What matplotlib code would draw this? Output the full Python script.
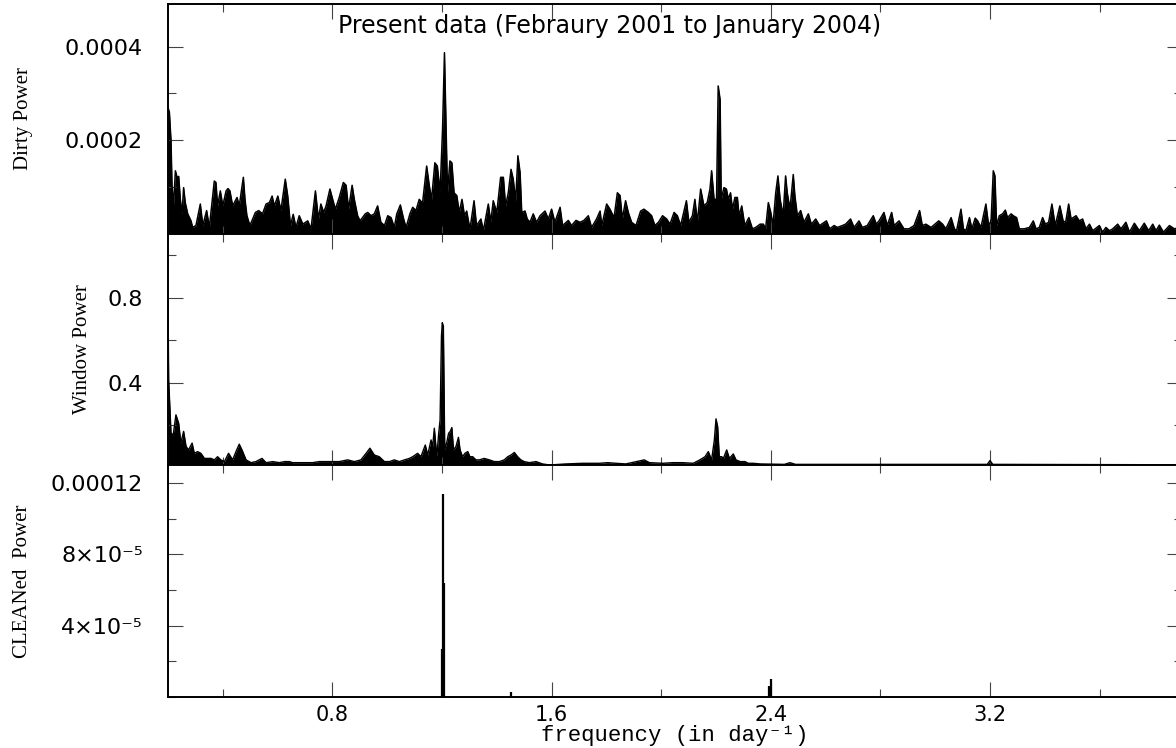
import numpy as np
import matplotlib
matplotlib.use('Agg')
import matplotlib.pyplot as plt
from matplotlib.ticker import MultipleLocator, FixedLocator, FixedFormatter

# dirty power spectrum (units of 1e-4), envelope of peaks and dips
dirty_freq = [0.200, 0.205, 0.211, 0.2146, 0.220, 0.227, 0.233, 0.239, 0.245, 0.251,
              0.257, 0.263, 0.272, 0.284, 0.290, 0.302, 0.318, 0.327, 0.341, 0.351,
              0.369, 0.375, 0.381, 0.391, 0.400, 0.412, 0.419, 0.426, 0.436, 0.452,
              0.460, 0.475, 0.481, 0.488, 0.499, 0.519, 0.531, 0.545, 0.558, 0.570,
              0.580, 0.588, 0.601, 0.612, 0.628, 0.637, 0.647, 0.657, 0.667, 0.679,
              0.692, 0.710, 0.722, 0.738, 0.749, 0.758, 0.768, 0.777, 0.791, 0.801,
              0.811, 0.825, 0.840, 0.850, 0.859, 0.872, 0.880, 0.892, 0.901, 0.920,
              0.929, 0.941, 0.953, 0.965, 0.977, 0.990, 1.002, 1.014, 1.026, 1.035,
              1.048, 1.060, 1.069, 1.083, 1.093, 1.105, 1.117, 1.127,
              1.130, 1.144, 1.154, 1.162, 1.174, 1.183, 1.193, 1.202, 1.209, 1.215,
              1.220, 1.229, 1.236, 1.244, 1.254, 1.263, 1.273, 1.282, 1.290, 1.302,
              1.317, 1.326, 1.342, 1.351, 1.369, 1.378, 1.387, 1.400, 1.414, 1.424,
              1.432, 1.442, 1.452, 1.460, 1.469, 1.477, 1.485, 1.491, 1.503, 1.511,
              1.521, 1.533, 1.545, 1.558, 1.576, 1.588, 1.600, 1.612, 1.631, 1.640,
              1.661, 1.673, 1.689, 1.704, 1.718, 1.734, 1.746, 1.764, 1.777, 1.783,
              1.801, 1.813, 1.828, 1.840, 1.850, 1.858, 1.870, 1.880, 1.892, 1.908,
              1.925, 1.937, 1.953, 1.965, 1.977, 1.990, 2.005, 2.020, 2.032,
              2.047, 2.059, 2.071, 2.092, 2.101, 2.114, 2.123, 2.132, 2.144, 2.156,
              2.168, 2.178, 2.184, 2.193, 2.202, 2.208, 2.215, 2.219, 2.229, 2.238,
              2.245, 2.253, 2.260, 2.269, 2.278, 2.284, 2.294, 2.305, 2.320, 2.333,
              2.345, 2.361, 2.373, 2.381, 2.391, 2.400, 2.408, 2.418, 2.426, 2.434,
              2.445, 2.454, 2.460, 2.470, 2.482, 2.488, 2.497, 2.509, 2.521, 2.537,
              2.548, 2.564, 2.578, 2.603, 2.615, 2.631, 2.643, 2.661, 2.673, 2.691,
              2.704, 2.722, 2.734, 2.752, 2.774, 2.785, 2.795, 2.813, 2.825, 2.841,
              2.850, 2.868, 2.886, 2.904, 2.923, 2.943, 2.953, 2.966,
              2.985, 3.013, 3.027, 3.039, 3.058, 3.070, 3.078, 3.094, 3.103, 3.112,
              3.125, 3.134, 3.146, 3.155, 3.167, 3.185, 3.195, 3.204, 3.212, 3.218,
              3.224, 3.234, 3.246, 3.256, 3.264, 3.277, 3.285, 3.297, 3.307, 3.325,
              3.344, 3.358, 3.368, 3.380, 3.392, 3.402, 3.414, 3.426, 3.438, 3.455,
              3.468, 3.477, 3.487, 3.496, 3.514, 3.526, 3.538, 3.550, 3.563, 3.575,
              3.599, 3.611, 3.623, 3.636, 3.648, 3.666, 3.678, 3.696, 3.709, 3.727,
              3.745, 3.763, 3.779, 3.794, 3.806, 3.818, 3.833, 3.855, 3.873, 3.900]
dirty_pow = [2.70, 2.60, 1.99, 1.03, 0.60, 1.35, 1.21, 1.23, 0.74, 0.40,
             0.99, 0.67, 0.43, 0.28, 0.14, 0.18, 0.64, 0.18, 0.50, 0.14,
             1.13, 1.10, 0.60, 0.92, 0.60, 0.92, 0.97, 0.92, 0.60, 0.78,
             0.60, 1.21, 0.74, 0.39, 0.18, 0.46, 0.50, 0.43, 0.64, 0.67,
             0.81, 0.60, 0.81, 0.50, 1.17, 0.81, 0.18, 0.42, 0.14, 0.39,
             0.21, 0.28, 0.11, 0.92, 0.32, 0.64, 0.46, 0.60, 0.96, 0.74,
             0.53, 0.78, 1.10, 1.04, 0.53, 1.04, 0.74, 0.39, 0.28, 0.43,
             0.46, 0.39, 0.43, 0.60, 0.25, 0.18, 0.39, 0.35, 0.14, 0.43,
             0.62, 0.32, 0.14, 0.43, 0.57, 0.50, 0.74, 0.67,
             0.71, 1.45, 1.02, 0.74, 1.52, 1.45, 0.88, 2.23, 3.87, 2.23,
             0.88, 1.56, 1.52, 0.88, 0.82, 0.46, 0.74, 0.39, 0.49, 0.10,
             0.71, 0.18, 0.32, 0.07, 0.64, 0.25, 0.71, 0.46, 1.21, 1.21,
             0.60, 0.88, 1.38, 1.17, 0.71, 1.67, 1.31, 0.46, 0.49, 0.32,
             0.25, 0.43, 0.25, 0.39, 0.49, 0.32, 0.53, 0.25, 0.57, 0.18,
             0.29, 0.18, 0.29, 0.25, 0.29, 0.39, 0.14, 0.32, 0.49, 0.18,
             0.64, 0.53, 0.35, 0.88, 0.82, 0.32, 0.71, 0.46, 0.25, 0.18,
             0.49, 0.53, 0.46, 0.39, 0.18, 0.25, 0.39, 0.32, 0.21,
             0.46, 0.39, 0.18, 0.71, 0.25, 0.39, 0.74, 0.25, 0.96, 0.60,
             0.67, 0.96, 1.35, 0.74, 0.74, 3.16, 2.87, 0.74, 0.99, 0.96,
             0.74, 0.88, 0.53, 0.78, 0.78, 0.39, 0.60, 0.18, 0.35, 0.11,
             0.14, 0.21, 0.21, 0.11, 0.67, 0.46, 0.18, 0.88, 1.24, 0.74,
             0.39, 1.24, 0.88, 0.53, 1.27, 0.81, 0.39, 0.50, 0.25, 0.43,
             0.21, 0.32, 0.18, 0.28, 0.11, 0.18, 0.14, 0.18, 0.21, 0.32,
             0.14, 0.28, 0.14, 0.18, 0.39, 0.21, 0.28, 0.46, 0.18, 0.46,
             0.18, 0.28, 0.11, 0.11, 0.18, 0.50, 0.18, 0.21,
             0.14, 0.28, 0.21, 0.11, 0.35, 0.11, 0.07, 0.53, 0.11, 0.07,
             0.35, 0.11, 0.34, 0.28, 0.14, 0.64, 0.18, 0.28, 1.35, 1.24,
             0.18, 0.39, 0.43, 0.51, 0.35, 0.43, 0.39, 0.35, 0.11, 0.11,
             0.14, 0.28, 0.11, 0.14, 0.35, 0.21, 0.25, 0.64, 0.18, 0.60,
             0.25, 0.28, 0.64, 0.32, 0.39, 0.28, 0.32, 0.11, 0.21, 0.07,
             0.18, 0.04, 0.14, 0.07, 0.11, 0.21, 0.11, 0.25, 0.04, 0.23,
             0.07, 0.23, 0.07, 0.21, 0.07, 0.19, 0.04, 0.18, 0.11, 0.15]

# spectral window
window_freq = [0.200, 0.2024, 0.211, 0.219, 0.229, 0.239, 0.247, 0.257, 0.266, 0.275,
               0.288, 0.296, 0.308, 0.320, 0.333, 0.345, 0.357, 0.369, 0.381, 0.393,
               0.406, 0.421, 0.436, 0.448, 0.460, 0.470, 0.485, 0.503, 0.521, 0.543,
               0.558, 0.582, 0.606, 0.625, 0.643, 0.655, 0.679, 0.704, 0.728, 0.752,
               0.764, 0.777, 0.801, 0.825, 0.856, 0.880, 0.904, 0.923, 0.937, 0.953,
               0.971, 0.990, 1.008, 1.026, 1.044, 1.063, 1.081, 1.093, 1.111, 1.123,
               1.139, 1.148, 1.160, 1.166, 1.172, 1.181, 1.188, 1.193, 1.198, 1.201,
               1.205, 1.210, 1.218, 1.224, 1.230, 1.236, 1.242, 1.251, 1.260, 1.266,
               1.275, 1.284, 1.294, 1.302, 1.312, 1.324, 1.336, 1.354, 1.373, 1.391,
               1.409, 1.427, 1.440, 1.452, 1.464, 1.476, 1.488, 1.500, 1.519, 1.543,
               1.567, 1.592, 1.652, 1.713, 1.774, 1.805, 1.835, 1.871, 1.920, 1.938,
               1.957, 2.005, 2.042, 2.078, 2.117, 2.141, 2.160, 2.172, 2.184, 2.194,
               2.200, 2.206, 2.212, 2.221, 2.227, 2.239, 2.249, 2.263, 2.273, 2.288,
               2.306, 2.318, 2.336, 2.361, 2.450, 2.470, 2.490, 3.190, 3.200, 3.210,
               3.900]
window_pow = [0.79, 0.415, 0.163, 0.156, 0.25, 0.21, 0.117, 0.172, 0.101, 0.085,
              0.117, 0.069, 0.077, 0.069, 0.045, 0.045, 0.045, 0.038, 0.053, 0.038,
              0.030, 0.069, 0.038, 0.077, 0.112, 0.085, 0.038, 0.025, 0.030, 0.045,
              0.025, 0.030, 0.025, 0.030, 0.030, 0.025, 0.025, 0.025, 0.025, 0.030,
              0.030, 0.030, 0.030, 0.030, 0.038, 0.030, 0.038, 0.069, 0.093, 0.061,
              0.053, 0.030, 0.030, 0.038, 0.030, 0.038, 0.045, 0.053, 0.069, 0.053,
              0.108, 0.061, 0.132, 0.101, 0.187, 0.053, 0.163, 0.226, 0.62, 0.683,
              0.667, 0.085, 0.124, 0.163, 0.172, 0.190, 0.085, 0.101, 0.144, 0.085,
              0.053, 0.069, 0.077, 0.053, 0.053, 0.038, 0.038, 0.045, 0.038, 0.030,
              0.030, 0.038, 0.053, 0.061, 0.073, 0.053, 0.038, 0.030, 0.025, 0.030,
              0.019, 0.014, 0.019, 0.022, 0.022, 0.025, 0.022, 0.019, 0.033, 0.038,
              0.025, 0.022, 0.025, 0.025, 0.022, 0.038, 0.053, 0.077, 0.038, 0.132,
              0.231, 0.195, 0.053, 0.053, 0.045, 0.085, 0.045, 0.066, 0.038, 0.030,
              0.030, 0.022, 0.022, 0.019, 0.017, 0.025, 0.017, 0.017, 0.035, 0.017,
              0.015]

# CLEANed spectrum components (units of 1e-5)
clean_freq = [1.200, 1.2036, 1.2073, 1.452, 2.392, 2.400]
clean_pow = [2.7, 11.4, 6.4, 0.3, 0.6, 1.0]

xmajor = [0.8, 1.6, 2.4, 3.2]
xlabels = ['0.8', '1.6', '2.4', '3.2']

fig = plt.figure(figsize=(11.76, 7.48), dpi=100)
left, width = 168/1176., 1013.8/1176.
ax1 = fig.add_axes([left, 1-234/748., width, 230/748.])
ax2 = fig.add_axes([left, 1-465/748., width, 231/748.])
ax3 = fig.add_axes([left, 1-697/748., width, 232/748.])

tickfont = 'DejaVu Sans'
labfont = 'Liberation Serif'

for ax in (ax1, ax2, ax3):
    ax.set_xlim(0.2, 3.9)
    ax.xaxis.set_major_locator(FixedLocator(xmajor))
    ax.xaxis.set_minor_locator(MultipleLocator(0.4))
    ax.tick_params(which='both', direction='in', top=True, right=True,
                   color='#444444', width=0.8)
    ax.tick_params(which='major', length=11)
    ax.tick_params(which='minor', length=6)
    ax.tick_params(axis='y', which='major', pad=18, labelsize=16)
    ax.tick_params(axis='x', which='major', pad=6, labelsize=15)
    for sp in ax.spines.values():
        sp.set_linewidth(1.4)

# dirty power
dp = np.array(dirty_pow) * 1e-4
ax1.fill_between(dirty_freq, dp, 0, color='black', lw=0)
ax1.plot(dirty_freq, dp, color='black', lw=1.1)
ax1.set_ylim(0, 0.000491)
ax1.yaxis.set_major_locator(FixedLocator([0.0002, 0.0004]))
ax1.yaxis.set_major_formatter(FixedFormatter(['0.0002', '0.0004']))
ax1.yaxis.set_minor_locator(MultipleLocator(0.0001))
ax1.set_xticklabels([])
ax1.set_ylabel('Dirty Power', family=labfont, fontsize=15)
ax1.yaxis.set_label_coords(-0.133, 0.5)
ax1.text(0.436, 0.905, 'Present data (Febraury 2001 to January 2004)',
         transform=ax1.transAxes, ha='center', va='center',
         family=tickfont, fontsize=17)

# window power
ax2.fill_between(window_freq, window_pow, 0, color='black', lw=0)
ax2.plot(window_freq, window_pow, color='black', lw=1.0)
ax2.set_ylim(0.014, 1.10)
ax2.yaxis.set_major_locator(FixedLocator([0.4, 0.8]))
ax2.yaxis.set_major_formatter(FixedFormatter(['0.4', '0.8']))
ax2.yaxis.set_minor_locator(MultipleLocator(0.2))
ax2.set_xticklabels([])
ax2.set_ylabel('Window Power', family=labfont, fontsize=15)
ax2.yaxis.set_label_coords(-0.075, 0.5)

# CLEANed power
cp = np.array(clean_pow) * 1e-5
ax3.vlines(clean_freq, 0, cp, color='black', lw=1.6)
ax3.set_ylim(0, 0.00013)
ax3.yaxis.set_major_locator(FixedLocator([4e-5, 8e-5, 12e-5]))
ax3.yaxis.set_major_formatter(FixedFormatter(['4×10⁻⁵', '8×10⁻⁵', '0.00012']))
ax3.yaxis.set_minor_locator(MultipleLocator(2e-5))
ax3.xaxis.set_major_formatter(FixedFormatter(xlabels))
ax3.set_ylabel('CLEANed  Power', family=labfont, fontsize=15)
ax3.yaxis.set_label_coords(-0.134, 0.5)
ax3.set_xlabel('frequency (in day⁻¹)', family=['Liberation Mono', 'DejaVu Sans Mono'],
               fontsize=16)
ax3.xaxis.set_label_coords(0.5, -0.122)

for ax in (ax1, ax2, ax3):
    for lab in ax.get_yticklabels() + ax.get_xticklabels():
        lab.set_family(tickfont)

fig.savefig('out.png', dpi=100)
